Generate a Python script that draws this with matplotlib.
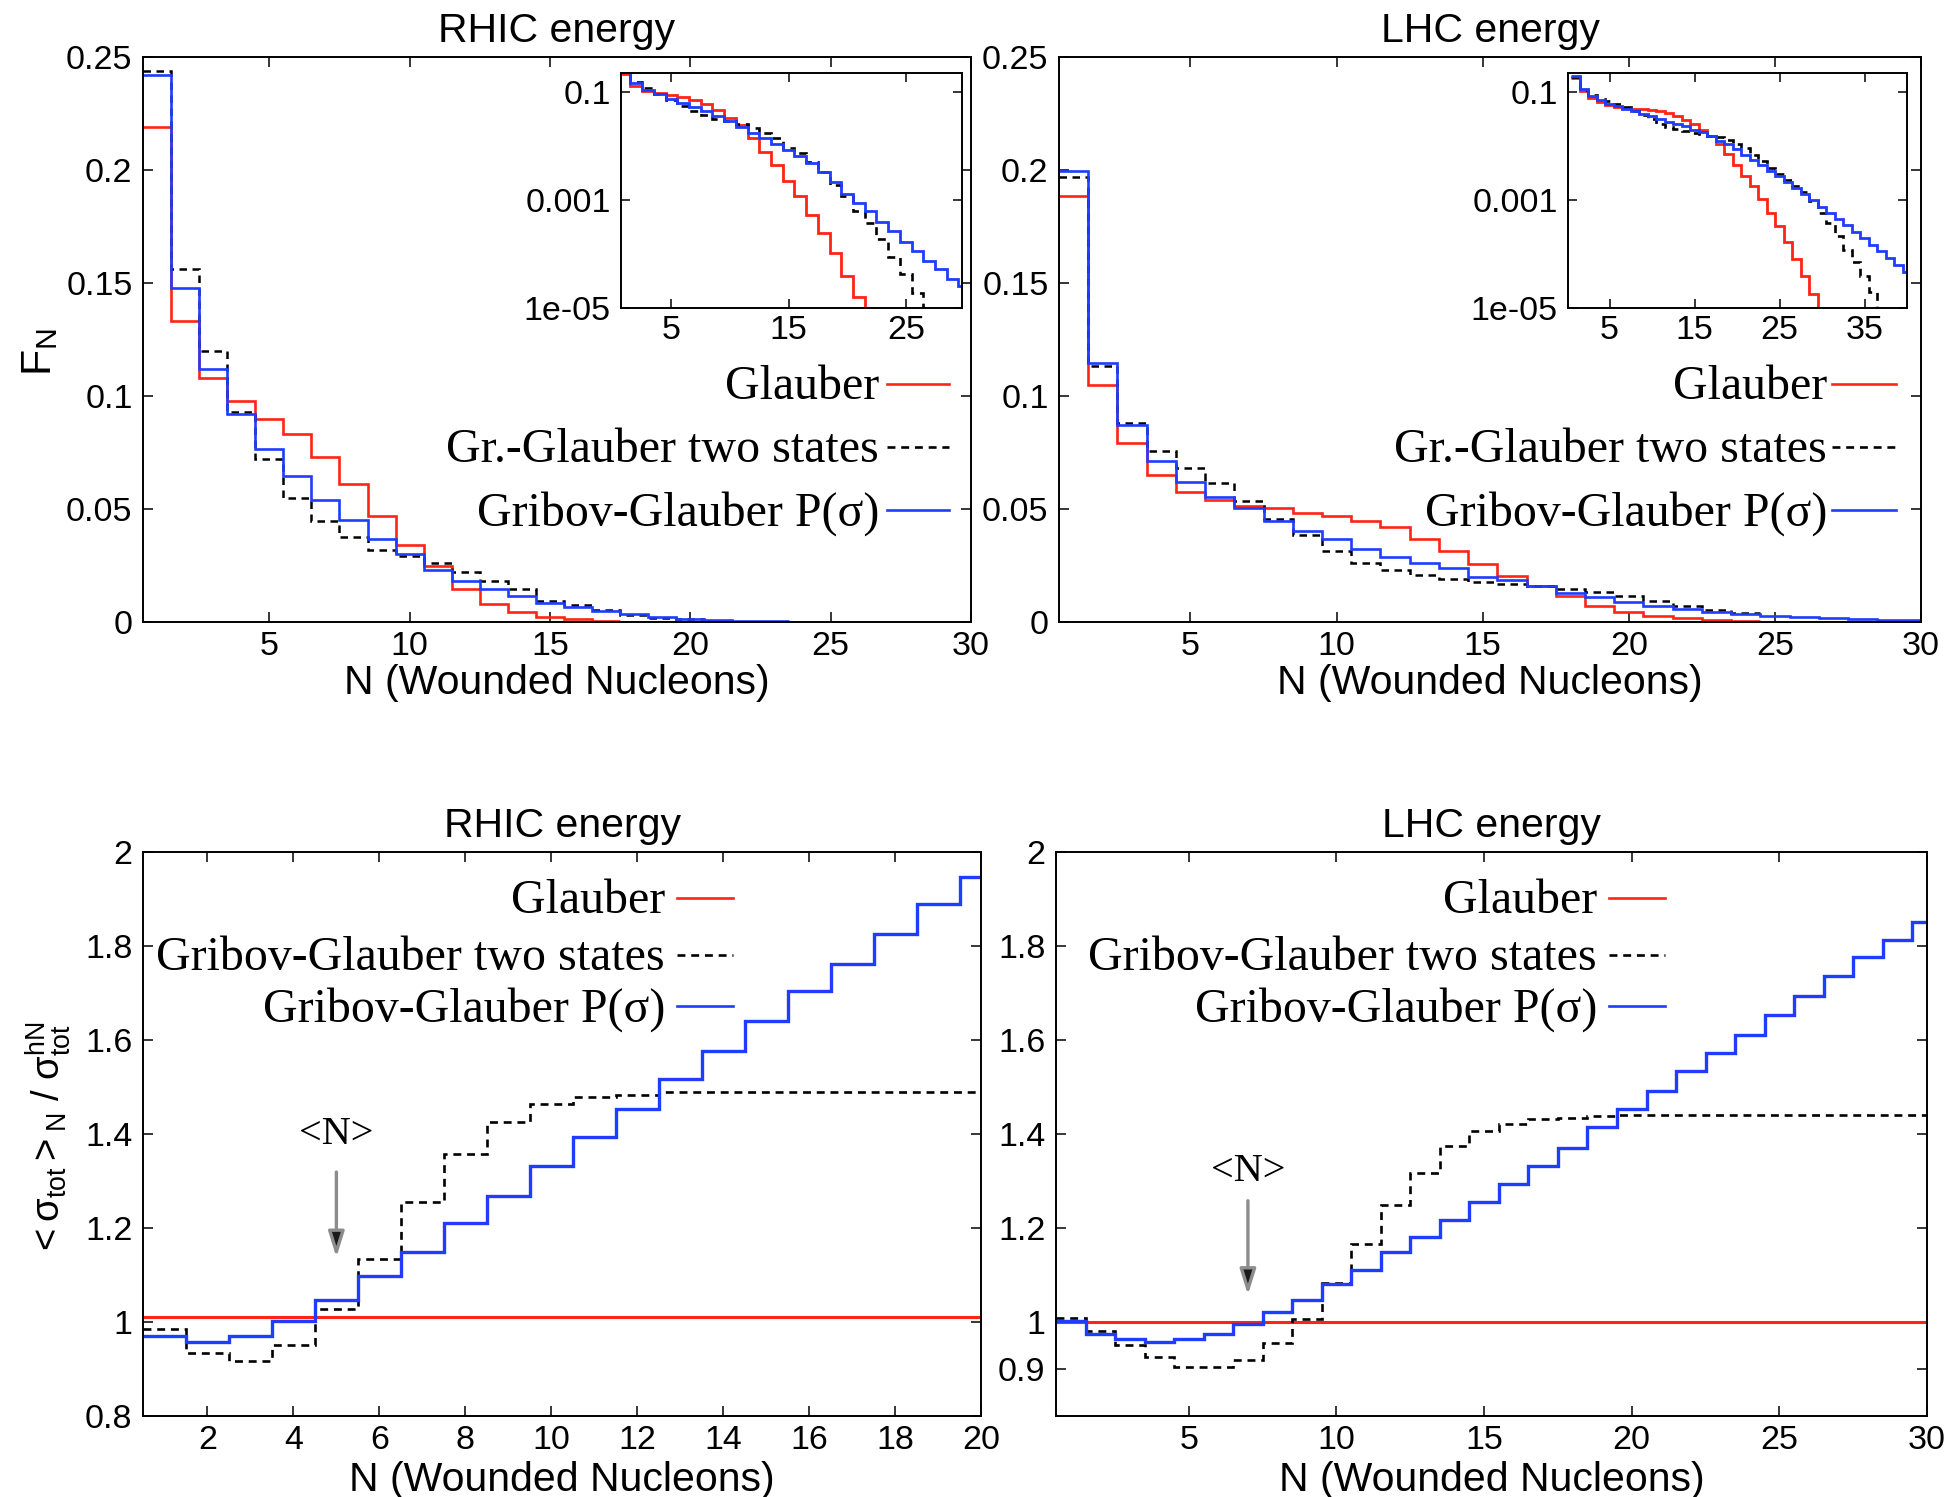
import numpy as np
import matplotlib
matplotlib.use('Agg')
import matplotlib.pyplot as plt
from matplotlib.lines import Line2D
from matplotlib.ticker import FuncFormatter, NullLocator

# ---------------- data (bins N = 1, 2, 3, ...) ----------------
# F_N, RHIC energy
rhic_glauber = [0.219, 0.133, 0.108, 0.098, 0.090, 0.083, 0.073, 0.061, 0.047, 0.034,
                0.025, 0.0145, 0.0078, 0.0046, 0.0023, 0.0012, 0.00054, 0.00025, 1.05e-4, 4.0e-5,
                1.6e-5, 5e-6]
rhic_two_states = [0.244, 0.156, 0.120, 0.093, 0.072, 0.055, 0.0445, 0.0375, 0.032, 0.029,
                   0.026, 0.022, 0.018, 0.0144, 0.0095, 0.0075, 0.0052, 0.0033, 0.0019, 0.0012,
                   0.00063, 0.00038, 0.00019, 9e-5, 4.2e-5, 1.9e-5, 5e-6]
rhic_p_sigma = [0.242, 0.148, 0.112, 0.092, 0.0765, 0.0646, 0.054, 0.045, 0.0366, 0.030,
                0.023, 0.018, 0.0144, 0.0113, 0.0085, 0.0065, 0.0049, 0.0034, 0.0022, 0.0013,
                0.0009, 0.00063, 0.0004, 0.00027, 0.00017, 0.000115, 7.4e-5, 5.2e-5, 3.4e-5, 2.6e-5]
rhic_main_bins = {'glauber': 17, 'two_states': 20, 'p_sigma': 23}

# F_N, LHC energy
lhc_glauber = [0.1887, 0.1047, 0.079, 0.0652, 0.0577, 0.0538, 0.0514, 0.0504, 0.0484, 0.047,
               0.0449, 0.0419, 0.0366, 0.0312, 0.0257, 0.0204, 0.0158, 0.0113, 0.0073, 0.0045,
               0.0028, 0.0018, 0.00105, 0.00058, 0.00033, 0.00017, 8e-5, 3.9e-5, 1.8e-5, 5e-6]
lhc_two_states = [0.197, 0.1132, 0.088, 0.0757, 0.0682, 0.0613, 0.0534, 0.0455, 0.0385, 0.0316,
                  0.0263, 0.0231, 0.0208, 0.0192, 0.0178, 0.0168, 0.0158, 0.0148, 0.0132, 0.0113,
                  0.0093, 0.0069, 0.0053, 0.004, 0.0031, 0.0024, 0.0018, 0.0014, 0.00095, 0.00058,
                  0.00038, 0.00022, 0.00012, 7e-5, 4e-5, 2e-5, 4e-6]
lhc_p_sigma = [0.1996, 0.1146, 0.087, 0.0711, 0.0618, 0.0553, 0.0504, 0.0449, 0.0401, 0.0366,
               0.0322, 0.0287, 0.0263, 0.0237, 0.0198, 0.0184, 0.0158, 0.0128, 0.0109, 0.0089,
               0.0070, 0.0057, 0.0045, 0.0035, 0.0028, 0.0022, 0.0017, 0.0013, 0.00100, 0.00076,
               0.00058, 0.00044, 0.00034, 0.00026, 0.0002, 0.000148, 0.000112, 8.4e-5, 6.3e-5, 4.7e-5]
lhc_main_bins = {'glauber': 24, 'two_states': 24, 'p_sigma': 30}

# <sigma_tot>_N / sigma_tot^hN, RHIC energy
rhic_ratio_glauber = [1.01, 1.01, 1.01, 1.01, 1.01, 1.01, 1.01, 1.01, 1.01, 1.01,
                      1.01, 1.01, 1.01, 1.01, 1.01, 1.01, 1.01, 1.01, 1.01, 1.01]
rhic_ratio_two_states = [0.985, 0.933, 0.917, 0.951, 1.027, 1.134, 1.256, 1.357, 1.426, 1.464,
                         1.479, 1.484, 1.489, 1.49, 1.49, 1.49, 1.49, 1.49, 1.49, 1.49]
rhic_ratio_p_sigma = [0.970, 0.958, 0.970, 1.002, 1.046, 1.097, 1.148, 1.211, 1.268, 1.331,
                      1.394, 1.453, 1.516, 1.577, 1.641, 1.704, 1.762, 1.826, 1.889, 1.946]
rhic_mean_N = 5

# <sigma_tot>_N / sigma_tot^hN, LHC energy
lhc_ratio_glauber = [1.0] * 30
lhc_ratio_two_states = [1.009, 0.980, 0.951, 0.925, 0.905, 0.905, 0.919, 0.956, 1.006, 1.084,
                        1.165, 1.248, 1.318, 1.375, 1.406, 1.421, 1.431, 1.435, 1.438, 1.44,
                        1.44, 1.44, 1.44, 1.44, 1.44, 1.44, 1.44, 1.44, 1.44, 1.44]
lhc_ratio_p_sigma = [1.002, 0.975, 0.964, 0.958, 0.964, 0.975, 0.995, 1.022, 1.046, 1.080,
                     1.110, 1.148, 1.180, 1.217, 1.256, 1.294, 1.331, 1.370, 1.414, 1.453,
                     1.492, 1.533, 1.572, 1.610, 1.654, 1.693, 1.737, 1.776, 1.813, 1.852]
lhc_mean_N = 7

labels_top = ['Glauber', 'Gr.-Glauber two states', 'Gribov-Glauber P(σ)']
labels_bottom = ['Glauber', 'Gribov-Glauber two states', 'Gribov-Glauber P(σ)']

# ---------------- style ----------------
W, H, DPI = 1952, 1497, 100
SANS, SERIF = 'Liberation Sans', 'Liberation Serif'
RED, BLUE, BLACK = '#ff2414', '#1f3cff', 'black'
DASH = (0, (3.0, 2.2))
TICK_FS = 24.5
LABEL_FS = 29.5
KEY_FS = 34.5

plt.rcParams.update({
    'font.family': [SANS, 'DejaVu Sans'],
    'mathtext.fontset': 'custom',
    'mathtext.rm': SANS,
    'mathtext.it': SANS + ':italic',
    'mathtext.bf': SANS + ':bold',
})

fig = plt.figure(figsize=(W / DPI, H / DPI), dpi=DPI)


def px_rect(x0, y0, x1, y1):
    return [x0 / W, 1 - y1 / H, (x1 - x0) / W, (y1 - y0) / H]


def stairs(ax, vals, color, dashed=False, lw=1.7, zorder=2):
    v = np.asarray(vals, dtype=float)
    edges = np.arange(v.size + 1) + 0.5
    ax.stairs(v, edges, baseline=None, color=color, lw=lw,
              linestyle=DASH if dashed else '-', zorder=zorder)


gfmt = FuncFormatter(lambda v, p: '%g' % v)


def frame(ax, size=TICK_FS, length=7.2, padx=6.5, pady=7.5):
    ax.tick_params(which='major', direction='in', top=True, right=True,
                   length=length, width=1.1, labelsize=size)
    ax.tick_params(axis='x', pad=padx)
    ax.tick_params(axis='y', pad=pady)
    ax.xaxis.set_minor_locator(NullLocator())
    ax.yaxis.set_minor_locator(NullLocator())
    for s in ax.spines.values():
        s.set_linewidth(1.4)


def key(labels, styles, text_right, x0, x1, ys, fs=KEY_FS):
    em = fs / 72 * DPI
    for label, (color, dashed), y in zip(labels, styles, ys):
        fig.text(text_right / W, 1 - (y + 0.32 * em) / H, label, ha='right', va='baseline',
                 family=[SERIF, 'DejaVu Serif'], fontsize=fs)
        fig.add_artist(Line2D([x0 / W, x1 / W], [1 - y / H, 1 - y / H], color=color, lw=1.9,
                              linestyle=DASH if dashed else '-'))


styles = [(RED, False), (BLACK, True), (BLUE, False)]

# ---------------- top panels: F_N ----------------
top_specs = [
    ('RHIC energy', (143, 57, 971, 622), (621, 73, 962, 308), (0.7, 29.8), [5, 15, 25],
     (rhic_glauber, rhic_two_states, rhic_p_sigma), rhic_main_bins,
     (879, 887, 949)),
    ('LHC energy', (1059, 57, 1921, 622), (1568, 73, 1907, 308), (0.1, 40), [5, 15, 25, 35],
     (lhc_glauber, lhc_two_states, lhc_p_sigma), lhc_main_bins,
     (1827, 1832, 1896)),
]

for title, r_main, r_ins, ins_xlim, ins_xt, series, nmain, kx in top_specs:
    ax = fig.add_axes(px_rect(*r_main))
    g, t, p = series
    stairs(ax, g[:nmain['glauber']], RED, lw=1.9)
    stairs(ax, t[:nmain['two_states']], BLACK, dashed=True, lw=1.8)
    stairs(ax, p[:nmain['p_sigma']], BLUE, lw=1.9)
    ax.set_xlim(0.5, 30)
    ax.set_ylim(0, 0.25)
    ax.set_xticks([5, 10, 15, 20, 25, 30])
    ax.set_yticks([0, 0.05, 0.1, 0.15, 0.2, 0.25])
    ax.yaxis.set_major_formatter(gfmt)
    frame(ax)
    ax.set_title(title, fontsize=LABEL_FS, pad=10.5)
    ax.set_xlabel('N (Wounded Nucleons)', fontsize=LABEL_FS)
    ax.xaxis.set_label_coords(0.5, -0.074)

    ins = fig.add_axes(px_rect(*r_ins))
    ins.set_facecolor('white')
    stairs(ins, g, RED, lw=2.0)
    stairs(ins, t, BLACK, dashed=True, lw=1.9)
    stairs(ins, p, BLUE, lw=2.0)
    ins.set_yscale('log')
    ins.set_ylim(1e-5, 0.23)
    ins.set_xlim(*ins_xlim)
    ins.set_yticks([0.1, 1e-3, 1e-5])
    ins.set_yticklabels(['0.1', '0.001', '1e-05'])
    ins.set_xticks(ins_xt)
    frame(ins, size=TICK_FS, length=6.5, padx=5.0, pady=7.5)

    key(labels_top, styles, kx[0], kx[1], kx[2], (384, 447, 510))

fig.text(40 / W, 1 - 352 / H, r'$\mathrm{F_N}$', rotation=90, ha='center', va='center',
         fontsize=31)

# ---------------- bottom panels: cross-section ratio ----------------
bottom_specs = [
    ('RHIC energy', (143, 852, 981, 1416), (0.5, 20), list(range(2, 21, 2)),
     [0.8, 1.0, 1.2, 1.4, 1.6, 1.8, 2.0],
     (rhic_ratio_glauber, rhic_ratio_two_states, rhic_ratio_p_sigma), rhic_mean_N,
     (1.319, 1.138, 1.398), (665, 677, 733)),
    ('LHC energy', (1056, 852, 1927, 1416), (0.5, 30), [5, 10, 15, 20, 25, 30],
     [0.9, 1.0, 1.2, 1.4, 1.6, 1.8, 2.0],
     (lhc_ratio_glauber, lhc_ratio_two_states, lhc_ratio_p_sigma), lhc_mean_N,
     (1.258, 1.058, 1.321), (1597, 1609, 1665)),
]

for title, r_main, xlim, xt, yt, series, meanN, arr, kx in bottom_specs:
    ax = fig.add_axes(px_rect(*r_main))
    g, t, p = series
    stairs(ax, g, RED, lw=2.2)
    stairs(ax, t, BLACK, dashed=True, lw=1.9)
    stairs(ax, p, BLUE, lw=2.4)
    ax.set_xlim(*xlim)
    ax.set_ylim(0.8, 2.0)
    ax.set_xticks(xt)
    ax.set_yticks(yt)
    ax.yaxis.set_major_formatter(gfmt)
    frame(ax)
    ax.set_title(title, fontsize=LABEL_FS, pad=10.5)
    ax.set_xlabel('N (Wounded Nucleons)', fontsize=LABEL_FS)
    ax.xaxis.set_label_coords(0.5, -0.080)
    ax.annotate('', xy=(meanN, arr[1]), xytext=(meanN, arr[0]),
                arrowprops=dict(arrowstyle='-|>,head_length=0.7,head_width=0.22',
                                fc='#1a1a1a', ec='#8c8c8c', lw=2.4, mutation_scale=22,
                                shrinkA=0, shrinkB=0))
    ax.text(meanN, arr[2], '<N>', ha='center', va='center', family=[SERIF, 'DejaVu Serif'],
            fontsize=29)
    key(labels_bottom, styles, kx[0], kx[1], kx[2], (898, 955, 1006))

fig.text(48 / W, 1 - 1139 / H,
         r'$\mathrm{<\sigma_{tot}>_N\ /\ \sigma^{hN}_{tot}}$',
         rotation=90, ha='center', va='center', fontsize=27.5)

fig.savefig('out.png', dpi=DPI)
